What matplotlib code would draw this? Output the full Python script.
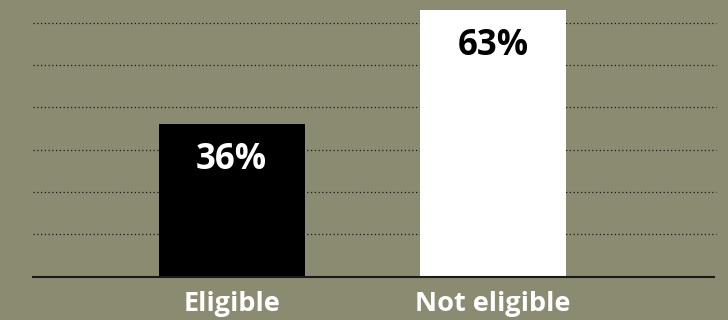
import matplotlib.pyplot as plt

# eligibility shares (percent)
categories = ['Eligible', 'Not eligible']
shares = [36, 63]
bar_colors = ['#000000', '#ffffff']
label_colors = ['#ffffff', '#000000']
grid_levels = [10, 20, 30, 40, 50, 60]

bg = '#8b8b72'
plt.rcParams['font.family'] = ['Open Sans', 'DejaVu Sans']

fig = plt.figure(figsize=(7.28, 3.2), dpi=100, facecolor=bg)
ax = fig.add_axes([33 / 728, 43.3 / 320, 681 / 728, 276.7 / 320])
ax.set_facecolor(bg)

x = range(len(categories))
bars = ax.bar(x, shares, width=0.56, color=bar_colors, zorder=3)

# dotted horizontal guides behind the bars
for lvl in grid_levels:
    ax.axhline(lvl, xmax=1.003, color='#1a1a1a', linestyle=(0, (1, 2)),
               linewidth=0.9, zorder=1, clip_on=False)

for b, v, c in zip(bars, shares, label_colors):
    ax.annotate(f'{v}%', (b.get_x() + b.get_width() / 2, v),
                xytext=(0, -36), textcoords='offset pixels',
                ha='center', va='center', fontsize=25, fontweight='bold', color=c)

ax.set_xlim(-0.761, 1.847)
ax.set_ylim(0, 65.4)
ax.set_yticks([])
ax.set_xticks(list(x))
ax.set_xticklabels(categories, fontsize=19.5, fontweight='bold', color='#ffffff')
ax.tick_params(axis='x', length=0, pad=10)

for s in ['top', 'left', 'right']:
    ax.spines[s].set_visible(False)
ax.spines['bottom'].set_color('#1a1a1a')
ax.spines['bottom'].set_linewidth(1.5)
ax.spines['bottom'].set_zorder(4)

fig.savefig('out.png', dpi=100, facecolor=bg)
